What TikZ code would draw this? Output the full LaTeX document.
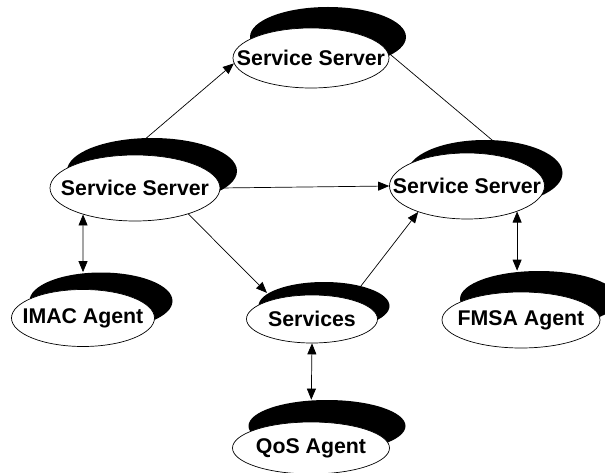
\documentclass[tikz,border=0pt]{standalone}
\usepackage{fontspec}
\setmainfont{Liberation Sans}
\usetikzlibrary{shapes.geometric}
\usetikzlibrary{shadows}
\usetikzlibrary{arrows.meta}
\tikzset{agent/.style 2 args={ellipse, draw, line width=0.7pt, fill=white, inner sep=0pt,
   drop shadow={shadow xshift=#1, shadow yshift=#2, opacity=1, fill=black}}}
\tikzset{every label/.style={font=\bfseries\fontsize{21.3}{25}\selectfont, inner sep=0pt}}
\tikzset{link/.style={line width=0.7pt, -{Triangle[length=11pt,width=9pt]}}}
\tikzset{duplex/.style={line width=0.7pt,
   {Triangle[length=11pt,width=9pt]}-{Triangle[length=11pt,width=9pt]}}}

\begin{document}
\begin{tikzpicture}[x=1pt, y=-1pt]

    \useasboundingbox (0,0) rectangle (605,473);

    % servers
    \node[agent={17pt}{21pt}, minimum width=156pt, minimum height=60pt,
          label=center:Service Server] (ssT) at (311,58) {};
    \node[agent={17pt}{17pt}, minimum width=170pt, minimum height=66pt,
          label=center:Service Server] (ssL) at (135,188) {};
    \node[agent={18pt}{13pt}, minimum width=155pt, minimum height=66pt,
          label=center:Service Server] (ssR) at (467,186) {};

    % agents and services
    \node[agent={18pt}{17pt}, minimum width=143pt, minimum height=57pt,
          label=center:IMAC Agent] (imac) at (83,318) {};
    \node[agent={12pt}{13pt}, minimum width=131pt, minimum height=48pt,
          label=center:Services] (serv) at (312,319) {};
    \node[agent={18pt}{21pt}, minimum width=158pt, minimum height=56pt,
          label=center:FMSA Agent] (fmsa) at (521,320) {};
    \node[agent={16pt}{22pt}, minimum width=157pt, minimum height=52pt,
          label=center:QoS Agent] (qos) at (311,448) {};

    \draw[link] (ssL.104) -- (ssT.184);
    \draw[line width=0.7pt] (ssT.4) -- (ssR.28);
    \draw[link] (ssL.east) -- (ssR.west);
    \draw[link, shorten >=9pt] (ssL.334) -- (serv.153);
    \draw[link] (serv.27) -- (ssR.208);

    \draw[duplex, shorten >=17pt] (ssL.207) -- (imac.north);
    \draw[duplex, shorten >=21pt] (ssR.333) -- (ssR.333 |- fmsa.north);
    \draw[duplex, shorten >=22pt] (serv.south) -- (qos.north);

\end{tikzpicture}
\end{document}
